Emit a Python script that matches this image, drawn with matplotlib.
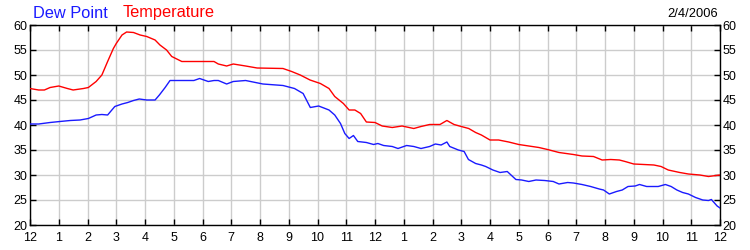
import matplotlib
matplotlib.use("Agg")
import matplotlib.pyplot as plt
import numpy as np

# Temperature (red): hours since midnight, degrees F
temp_hours = [0, 0.3, 0.5, 0.7, 1.0, 1.3, 1.5, 1.86, 2.03, 2.3, 2.5, 2.7, 2.9, 3.0, 3.2,
              3.36, 3.6, 3.83, 4.06, 4.35, 4.52, 4.75, 4.93, 5.28, 6.4, 6.55, 6.84, 7.07,
              7.5, 7.9, 8.8, 9.1, 9.4, 9.74, 10.1, 10.4, 10.6, 10.9, 11.1, 11.3, 11.5, 11.7,
              12.0, 12.25, 12.6, 12.94, 13.35, 13.6, 13.9, 14.26, 14.5, 14.75, 15.0, 15.26,
              15.5, 15.7, 16.0, 16.3, 16.65, 17.0, 17.35, 17.7, 18.0, 18.4, 18.9, 19.2, 19.6,
              19.9, 20.2, 20.5, 20.7, 21.0, 21.7, 21.95, 22.2, 22.6, 22.9, 23.3, 23.6, 24.0]
temp_values = [47.3, 47.0, 47.0, 47.5, 47.8, 47.3, 47.0, 47.3, 47.5, 48.7, 50.0, 52.7, 55.3,
               56.3, 58.0, 58.6, 58.5, 58.0, 57.7, 57.0, 56.0, 55.0, 53.7, 52.7, 52.7, 52.2,
               51.8, 52.2, 51.8, 51.4, 51.3, 50.7, 50.0, 49.0, 48.3, 47.3, 45.7, 44.3, 43.0,
               43.0, 42.3, 40.6, 40.5, 39.8, 39.5, 39.8, 39.3, 39.7, 40.1, 40.1, 40.9, 40.1,
               39.7, 39.3, 38.5, 38.0, 37.0, 37.0, 36.6, 36.1, 35.8, 35.5, 35.1, 34.5, 34.1,
               33.8, 33.7, 33.0, 33.1, 33.0, 32.7, 32.2, 32.0, 31.7, 31.0, 30.5, 30.2, 30.0,
               29.7, 30.0]

# Dew point (blue)
dew_hours = [0, 0.3, 0.7, 1.04, 1.4, 1.74, 2.03, 2.3, 2.5, 2.7, 2.95, 3.2, 3.4, 3.6, 3.8,
             4.06, 4.35, 4.5, 4.7, 4.87, 5.7, 5.9, 6.2, 6.4, 6.55, 6.84, 7.07, 7.5, 8.1, 8.8,
             9.2, 9.5, 9.75, 10.04, 10.4, 10.6, 10.8, 10.95, 11.1, 11.25, 11.4, 11.7, 11.95,
             12.1, 12.3, 12.6, 12.8, 13.1, 13.35, 13.6, 13.9, 14.1, 14.3, 14.5, 14.6, 14.9,
             15.1, 15.25, 15.5, 15.7, 15.85, 16.1, 16.35, 16.6, 16.9, 17.1, 17.35, 17.6, 17.9,
             18.2, 18.4, 18.7, 18.9, 19.2, 19.5, 19.8, 19.95, 20.15, 20.4, 20.6, 20.8, 21.05,
             21.2, 21.45, 21.85, 22.1, 22.3, 22.5, 22.7, 22.9, 23.15, 23.4, 23.6, 23.7, 23.9, 24.0]
dew_values = [40.2, 40.2, 40.5, 40.7, 40.9, 41.0, 41.3, 42.0, 42.1, 42.0, 43.7, 44.2, 44.5,
              44.9, 45.2, 45.0, 45.0, 46.0, 47.5, 48.9, 48.9, 49.3, 48.7, 48.9, 48.9, 48.2,
              48.7, 48.9, 48.2, 47.9, 47.3, 46.3, 43.5, 43.8, 43.0, 42.0, 40.3, 38.3, 37.3,
              37.9, 36.7, 36.5, 36.1, 36.3, 35.9, 35.7, 35.3, 35.9, 35.7, 35.3, 35.7, 36.2,
              36.0, 36.6, 35.7, 35.0, 34.7, 33.1, 32.3, 32.0, 31.7, 31.0, 30.5, 30.7, 29.1,
              29.0, 28.7, 29.0, 28.9, 28.7, 28.2, 28.5, 28.4, 28.1, 27.7, 27.2, 27.0, 26.2,
              26.7, 27.0, 27.7, 27.8, 28.1, 27.7, 27.7, 28.1, 27.7, 27.0, 26.5, 26.2, 25.5,
              25.0, 24.9, 25.1, 23.8, 23.4]

hour_labels = ["12", "1", "2", "3", "4", "5", "6", "7", "8", "9", "10", "11",
               "12", "1", "2", "3", "4", "5", "6", "7", "8", "9", "10", "11", "12"]
y_ticks = [20, 25, 30, 35, 40, 45, 50, 55, 60]
date_label = "2/4/2006"

plt.rcParams['font.family'] = ['Liberation Sans', 'DejaVu Sans']

fig = plt.figure(figsize=(7.5, 2.5), dpi=100)
ax = fig.add_axes([30 / 750, 25 / 250, 690 / 750, 200 / 250])

ax.plot(temp_hours, temp_values, color='#ff0000', lw=1.0, zorder=3)
ax.plot(dew_hours, dew_values, color='#1a1aff', lw=1.0, zorder=3)

ax.set_xlim(0, 24)
ax.set_ylim(20, 60)
ax.set_xticks(range(25))
ax.set_xticklabels(hour_labels)
ax.set_yticks(y_ticks)
ax.grid(True, color='#cccccc', lw=1.0)
ax.set_axisbelow(True)
for s in ax.spines.values():
    s.set_color('black')
    s.set_linewidth(1.0)
ax.tick_params(axis='both', which='both', direction='in', length=4, width=1,
               top=True, right=True, labelright=True, labelsize=9, colors='black',
               pad=2)
ax.tick_params(axis='x', pad=5)

fig.text(33 / 750, 1 - 13 / 250, "Dew Point", color='#1a1aff', fontsize=11.8, va='center', ha='left')
fig.text(123 / 750, 1 - 13 / 250, "Temperature", color='#ff0000', fontsize=11.8, va='center', ha='left')
fig.text(718 / 750, 1 - 14 / 250, date_label, color='black', fontsize=9.3, va='center', ha='right')

fig.savefig("out.png", dpi=100)
